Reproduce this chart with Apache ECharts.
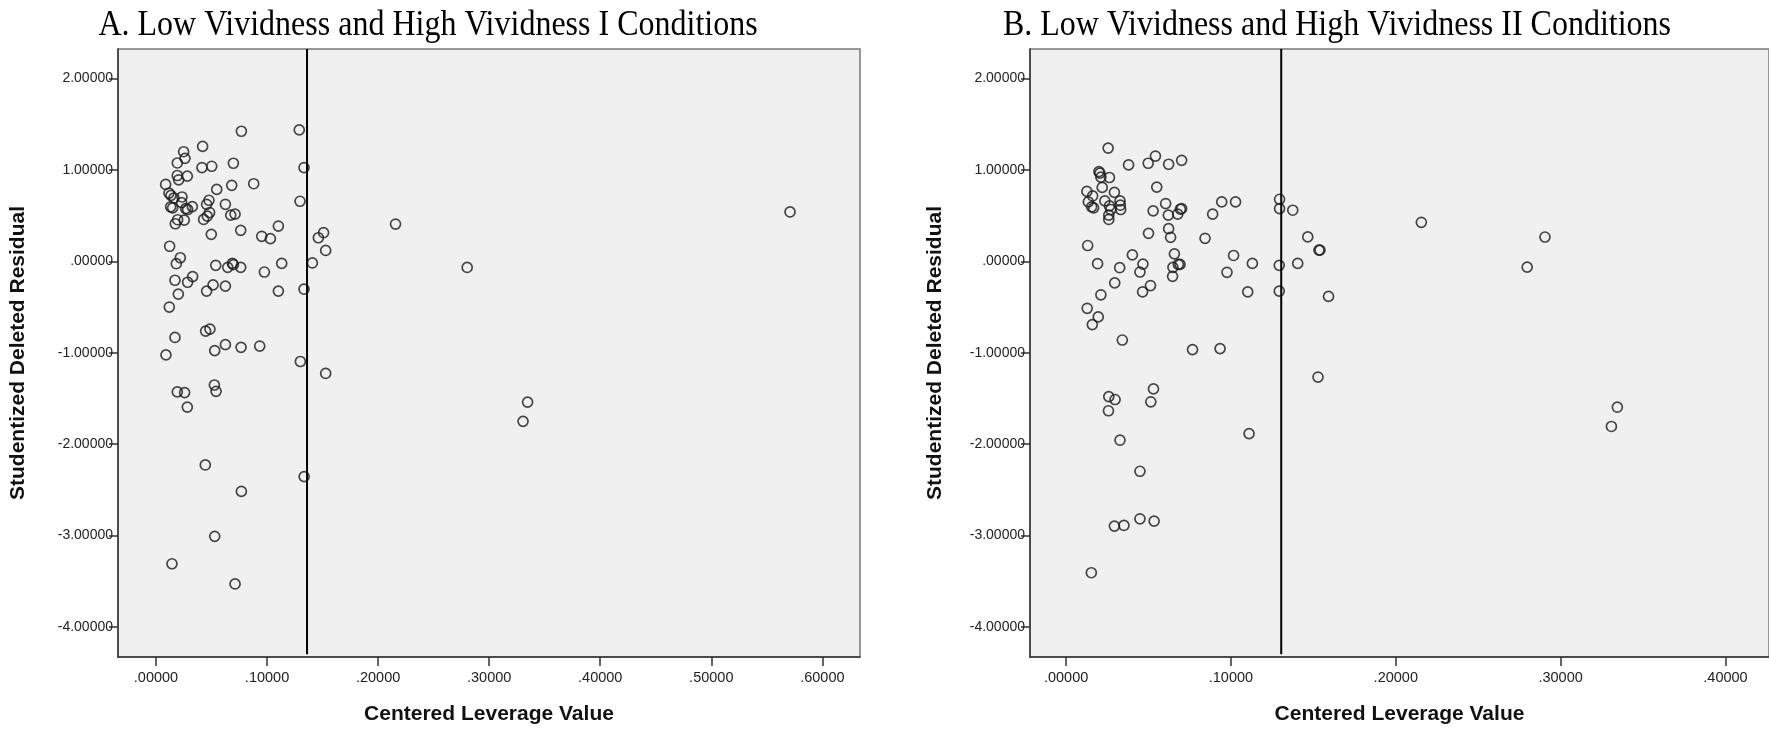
<!DOCTYPE html>
<html><head><meta charset="utf-8">
<script src="https://cdn.jsdelivr.net/npm/echarts@6/dist/echarts.min.js"></script>
<style>html,body{margin:0;padding:0;background:#fff}#c{width:1769px;height:730px}</style>
</head><body><div id="c"></div>
<script>
const titleA = 'A. Low Vividness and High Vividness I Conditions';
const titleB = 'B. Low Vividness and High Vividness II Conditions';
const xAxisName = 'Centered Leverage Value';
const yAxisName = 'Studentized Deleted Residual';
const yTicks = [-4, -3, -2, -1, 0, 1, 2];
const xTicksA = [0, 0.1, 0.2, 0.3, 0.4, 0.5, 0.6];
const xTicksB = [0, 0.1, 0.2, 0.3, 0.4];
const refLineA = 0.136;
const refLineB = 0.1305;
const yMin = -4.328, yMax = 2.324;
const xMinA = -0.0342, xMaxA = 0.6339;
const xMinB = -0.0219, xMaxB = 0.4264;

// [centered leverage, studentized deleted residual]
const pointsA = [
[0.0769,1.424],[0.129,1.439],[0.0249,1.200],[0.042,1.258],[0.0261,1.128],[0.0192,1.077],[0.0414,1.027],[0.0502,1.041],[0.0697,1.074],[0.1333,1.027],
[0.0192,0.940],[0.0282,0.933],[0.0204,0.893],[0.0087,0.842],[0.088,0.850],[0.0682,0.832],[0.0547,0.788],[0.0117,0.748],[0.0135,0.723],[0.0162,0.694],
[0.0234,0.705],[0.1297,0.658],[0.0477,0.669],[0.0456,0.625],[0.0625,0.625],[0.0231,0.643],[0.0132,0.597],[0.015,0.586],[0.0267,0.578],[0.0285,0.568],
[0.0327,0.600],[0.0673,0.506],[0.0712,0.517],[0.0483,0.535],[0.0462,0.495],[0.0429,0.459],[0.0195,0.456],[0.0174,0.412],[0.0255,0.452],[0.0763,0.340],
[0.0498,0.296],[0.1102,0.387],[0.0952,0.275],[0.103,0.249],[0.2157,0.409],[0.1462,0.259],[0.1509,0.314],[0.1528,0.120],[0.0123,0.166],[0.0219,0.040],
[0.0183,-0.025],[0.0538,-0.043],[0.0646,-0.065],[0.0688,-0.022],[0.0697,-0.036],[0.0763,-0.065],[0.1132,-0.022],[0.1408,-0.017],[0.2802,-0.066],[0.0976,-0.116],
[0.033,-0.166],[0.0285,-0.228],[0.0171,-0.206],[0.0514,-0.257],[0.0456,-0.325],[0.0625,-0.271],[0.1102,-0.325],[0.1333,-0.304],[0.0201,-0.358],[0.012,-0.499],
[0.0447,-0.763],[0.0486,-0.741],[0.0171,-0.832],[0.009,-1.023],[0.0529,-0.976],[0.0625,-0.911],[0.0766,-0.940],[0.0934,-0.926],[0.13,-1.095],[0.1528,-1.226],
[0.0192,-1.428],[0.0258,-1.435],[0.0526,-1.352],[0.0541,-1.421],[0.0282,-1.594],[0.0444,-2.227],[0.1334,-2.354],[0.0769,-2.516],[0.0529,-3.008],[0.0144,-3.308],
[0.0712,-3.529],[0.5709,0.541],[0.3346,-1.540],[0.3305,-1.750]
];

const pointsB = [
[0.0255,1.240],[0.0542,1.153],[0.0701,1.106],[0.0379,1.056],[0.0498,1.074],[0.0622,1.063],[0.0199,0.983],[0.0205,0.965],[0.0263,0.918],[0.0211,0.922],
[0.055,0.813],[0.0219,0.810],[0.0126,0.766],[0.0293,0.756],[0.0161,0.716],[0.0235,0.662],[0.0135,0.651],[0.0327,0.662],[0.0329,0.615],[0.0155,0.597],
[0.0167,0.586],[0.0263,0.607],[0.0271,0.568],[0.0331,0.568],[0.0259,0.506],[0.0259,0.459],[0.0604,0.633],[0.0528,0.553],[0.062,0.506],[0.0677,0.517],
[0.0701,0.578],[0.0693,0.571],[0.0889,0.517],[0.0944,0.651],[0.1028,0.651],[0.1295,0.680],[0.1295,0.578],[0.1375,0.560],[0.05,0.307],[0.0622,0.358],
[0.0634,0.264],[0.0843,0.253],[0.1466,0.268],[0.1534,0.123],[0.154,0.123],[0.0131,0.174],[0.0402,0.072],[0.0657,0.083],[0.1016,0.065],[0.0191,-0.025],
[0.0325,-0.069],[0.0466,-0.029],[0.0448,-0.116],[0.0648,-0.065],[0.0681,-0.033],[0.0691,-0.033],[0.113,-0.022],[0.1293,-0.043],[0.1405,-0.022],[0.0976,-0.119],
[0.0646,-0.163],[0.0295,-0.235],[0.0512,-0.264],[0.0464,-0.333],[0.1102,-0.333],[0.1293,-0.325],[0.1592,-0.383],[0.0211,-0.365],[0.0128,-0.513],[0.0195,-0.607],
[0.0159,-0.691],[0.0341,-0.860],[0.0767,-0.965],[0.0934,-0.954],[0.1528,-1.265],[0.0259,-1.479],[0.0297,-1.511],[0.0257,-1.634],[0.053,-1.395],[0.0514,-1.536],
[0.111,-1.884],[0.0327,-1.956],[0.0448,-2.296],[0.0293,-2.896],[0.0351,-2.889],[0.0448,-2.816],[0.0534,-2.842],[0.0153,-3.406],
[0.2155,0.428],[0.2905,0.267],[0.2797,-0.063],[0.3344,-1.595],[0.3308,-1.806]
];

function fmt(v) {
  let s = Math.abs(v).toFixed(5);
  if (s.charAt(0) === '0') s = s.slice(1);
  return (v < -1e-9 ? '-' : '') + s;
}

const yTickFont = { fontFamily: 'Liberation Sans, Arial', fontSize: 14, color: '#222' };
const xTickFont = { fontFamily: 'Liberation Sans, Arial', fontSize: 14.5, color: '#222' };
const nameFont = { fontFamily: 'Liberation Sans, Arial', fontSize: 21, fontWeight: 'bold', color: '#111' };

function xAxisFor(idx, min, max, ticks) {
  return {
    type: 'value', gridIndex: idx, min: min, max: max,
    name: xAxisName, nameLocation: 'middle', nameGap: 47, nameTextStyle: nameFont,
    axisLine: { show: true, onZero: false, lineStyle: { color: '#333', width: 1.5 } },
    axisTick: { show: true, customValues: ticks, length: 9, lineStyle: { color: '#333', width: 1.5 } },
    axisLabel: { customValues: ticks, formatter: fmt, margin: 13, ...xTickFont },
    splitLine: { show: false }
  };
}
function yAxisFor(idx, gap) {
  return {
    type: 'value', gridIndex: idx, min: yMin, max: yMax,
    name: yAxisName, nameLocation: 'middle', nameGap: gap, nameRotate: 90, nameTextStyle: nameFont,
    axisLine: { show: true, onZero: false, lineStyle: { color: '#333', width: 1.5 } },
    axisTick: { show: true, customValues: yTicks, length: 9, lineStyle: { color: '#333', width: 1.5 } },
    axisLabel: { customValues: yTicks, formatter: fmt, margin: 5, ...yTickFont },
    splitLine: { show: false }
  };
}
const scatterStyle = { color: 'rgba(0,0,0,0)', borderColor: '#1a1a1a', borderWidth: 1.7 };
const titleFont = '32px "Liberation Serif", "Times New Roman", serif';

const chart = echarts.init(document.getElementById('c'), null, { renderer: 'canvas' });
chart.setOption({
  backgroundColor: '#ffffff',
  animation: false,
  graphic: [
    { type: 'text', x: 428, y: 44, scaleY: 1.15, style: { text: titleA, font: titleFont, fill: '#000', textAlign: 'center', textVerticalAlign: 'bottom' } },
    { type: 'text', x: 1337, y: 44, scaleY: 1.15, style: { text: titleB, font: titleFont, fill: '#000', textAlign: 'center', textVerticalAlign: 'bottom' } }
  ],
  grid: [
    { left: 118, top: 49, width: 742, height: 613, show: true, backgroundColor: '#f0f0f0', borderColor: '#777', borderWidth: 1.5 },
    { left: 1030, top: 49, width: 750, height: 613, show: true, backgroundColor: '#f0f0f0', borderColor: '#777', borderWidth: 1.5 }
  ],
  xAxis: [ xAxisFor(0, xMinA, xMaxA, xTicksA), xAxisFor(1, xMinB, xMaxB, xTicksB) ],
  yAxis: [ yAxisFor(0, 89), yAxisFor(1, 84) ],
  series: [
    { type: 'scatter', xAxisIndex: 0, yAxisIndex: 0, data: pointsA, symbol: 'circle', symbolSize: 10, itemStyle: scatterStyle, silent: true },
    { type: 'scatter', xAxisIndex: 1, yAxisIndex: 1, data: pointsB, symbol: 'circle', symbolSize: 10, itemStyle: scatterStyle, silent: true },
    { type: 'line', xAxisIndex: 0, yAxisIndex: 0, data: [[refLineA, yMax], [refLineA, yMin + 0.03]], symbol: 'none', lineStyle: { color: '#000', width: 2 }, silent: true },
    { type: 'line', xAxisIndex: 1, yAxisIndex: 1, data: [[refLineB, yMax], [refLineB, yMin + 0.03]], symbol: 'none', lineStyle: { color: '#000', width: 2 }, silent: true }
  ]
});
</script></body></html>
